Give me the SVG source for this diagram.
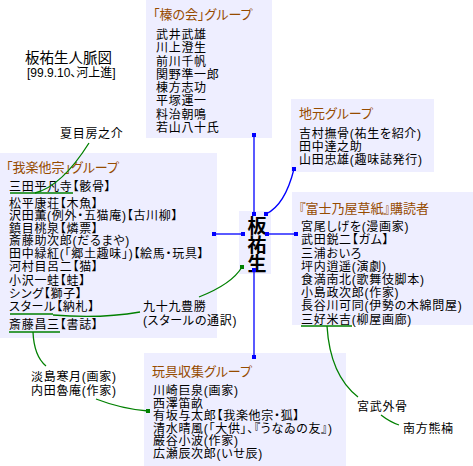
<svg xmlns="http://www.w3.org/2000/svg" width="473" height="466" viewBox="0 0 473 466">
<style>
text{font-family:"Liberation Sans","Noto Sans CJK JP","Noto Sans CJK SC",sans-serif;font-size:12px;letter-spacing:0.7px;fill:#000;font-feature-settings:"palt";}
.box{fill:#EEEEFF;stroke:none;}
.ttl{fill:#964B00;font-size:13px;letter-spacing:0;}
.b{stroke:#0000FF;stroke-width:1.3;fill:none;}
.g{stroke:#008000;stroke-width:1.3;fill:none;}
.bd{fill:#0000FF;}
.gd{fill:#008000;}
.big{font-size:19px;font-weight:bold;letter-spacing:0;}
</style>
<rect width="473" height="466" fill="#fff"/>

<g id="title">
<text style="font-size:14.5px;letter-spacing:0"><tspan x="25" y="63">板祐生人脈図</tspan><tspan x="27" y="77" style="font-size:12px">[99.9.10、河上進]</tspan></text>
</g>

<g id="enoki">
<rect class="box" x="146" y="0" width="126" height="138"/>
<text class="ttl" x="153" y="19">「榛の会」グループ</text>
<text><tspan x="156" y="39">武井武雄</tspan><tspan x="156" y="52">川上澄生</tspan><tspan x="156" y="65.5">前川千帆</tspan><tspan x="156" y="78.5">関野準一郎</tspan><tspan x="156" y="92">棟方志功</tspan><tspan x="156" y="105">平塚運一</tspan><tspan x="156" y="118.5">料治朝鳴</tspan><tspan x="156" y="131.5">若山八十氏</tspan></text>
</g>

<g id="jimoto">
<rect class="box" x="291" y="99" width="143" height="73"/>
<text class="ttl" x="299" y="118">地元グループ</text>
<text><tspan x="299" y="138">吉村撫骨(祐生を紹介)</tspan><tspan x="299" y="151">田中達之助</tspan><tspan x="299" y="164">山田忠雄(趣味誌発行)</tspan></text>
</g>

<g id="fujinoya">
<rect class="box" x="292" y="192" width="181" height="133"/>
<text class="ttl" x="299" y="213">『富士乃屋草紙』購読者</text>
<text><tspan x="301" y="231">宮尾しげを(漫画家)</tspan><tspan x="301" y="244">武田鋭二【ガム】</tspan><tspan x="301" y="257.5">三浦おいろ</tspan><tspan x="301" y="270.5">坪内逍遥(演劇)</tspan><tspan x="301" y="284">食満南北(歌舞伎脚本)</tspan><tspan x="301" y="297">小島政次郎(作家)</tspan><tspan x="301" y="310">長谷川可同(伊勢の木綿問屋)</tspan><tspan x="301" y="323.5">三好米吉(柳屋画廊)</tspan></text>
<line class="g" x1="301" y1="326" x2="352" y2="326"/>
</g>

<g id="garakuta">
<rect class="box" x="0" y="153" width="217" height="185"/>
<text class="ttl" x="6" y="172">「我楽他宗」グループ</text>
<text><tspan x="9" y="190.5">三田平凡寺【骸骨】</tspan><tspan x="9" y="207.5">松平康荘【木魚】</tspan><tspan x="9" y="220">沢田薫(例外・五猫庵)【古川柳】</tspan><tspan x="9" y="232.5">鎮目桃泉【燐票】</tspan><tspan x="9" y="245">斎藤助次郎(だるまや)</tspan><tspan x="9" y="258">田中緑紅(「郷土趣味」)【絵馬・玩具】</tspan><tspan x="9" y="271">河村目呂二【猫】</tspan><tspan x="9" y="284.5">小沢一蛙【蛙】</tspan><tspan x="9" y="297.5">シング【獅子】</tspan><tspan x="9" y="311">スタール【納札】</tspan><tspan x="9" y="329">斎藤昌三【書誌】</tspan></text>
<line class="g" x1="10" y1="193" x2="73" y2="193"/>
<line class="g" x1="10" y1="314" x2="53" y2="314"/>
<line class="g" x1="9" y1="332" x2="60" y2="332"/>
</g>

<g id="itayusei">
<rect class="box" x="239" y="211" width="32" height="63"/>
<text class="big" x="255" y="216" style="writing-mode:vertical-rl">板祐生</text>
</g>

<g id="gangu">
<rect class="box" x="144" y="353" width="202" height="113"/>
<text class="ttl" x="152" y="376">玩具収集グループ</text>
<text><tspan x="153" y="395">川崎巨泉(画家)</tspan><tspan x="153" y="407.5">西澤笛畝</tspan><tspan x="153" y="420">有坂与太郎【我楽他宗・狐】</tspan><tspan x="153" y="432.5">清水晴風(「大供」、『うなゐの友』)</tspan><tspan x="153" y="445">巌谷小波(作家)</tspan><tspan x="153" y="458">広瀬辰次郎(いせ辰)</tspan></text>
</g>

<g id="natsume"><text x="60" y="138">夏目房之介</text></g>
<g id="tsukumo">
<text><tspan x="143" y="311">九十九豊勝</tspan><tspan x="143" y="325">(スタールの通訳)</tspan></text>
</g>
<g id="awashima">
<text><tspan x="31" y="381">淡島寒月(画家)</tspan><tspan x="31" y="395">内田魯庵(作家)</tspan></text>
</g>
<g id="miyatake"><text x="357" y="411">宮武外骨</text></g>
<g id="minakata"><text x="403" y="433">南方熊楠</text></g>

<g id="connectors">
<line class="b" x1="254" y1="135" x2="254" y2="214"/>
<rect class="bd" x="252" y="133" width="4" height="4"/>
<rect class="bd" x="252" y="212" width="4" height="4"/>
<path class="b" d="M294,169 Q285,205 266,214"/>
<rect class="bd" x="292" y="167" width="4" height="4"/>
<rect class="bd" x="264" y="212" width="4" height="4"/>
<line class="b" x1="214" y1="234" x2="243" y2="234"/>
<rect class="bd" x="212" y="232" width="4" height="4"/>
<rect class="bd" x="241" y="232" width="4" height="4"/>
<line class="b" x1="267" y1="234" x2="296" y2="234"/>
<rect class="bd" x="265" y="232" width="4" height="4"/>
<rect class="bd" x="294" y="232" width="4" height="4"/>
<line class="b" x1="254" y1="270" x2="254" y2="357"/>
<rect class="bd" x="252" y="268" width="4" height="4"/>
<rect class="bd" x="252" y="355" width="4" height="4"/>

<path class="g" d="M89,143 Q62,186 35,193"/>
<path class="g" d="M199,297 Q232,284 242,267"/>
<rect class="gd" x="240" y="265" width="4" height="4"/>
<path class="g" d="M53,315 Q100,319 140,312"/>
<path class="g" d="M33,332 Q34,356 46,366"/>
<path class="g" d="M96,399 Q122,409 148,411"/>
<rect class="gd" x="146" y="409" width="4" height="4"/>
<path class="g" d="M327,326 Q330,375 358,397"/>
<path class="g" d="M381,415 Q390,422 399,425"/>
</g>
</svg>
